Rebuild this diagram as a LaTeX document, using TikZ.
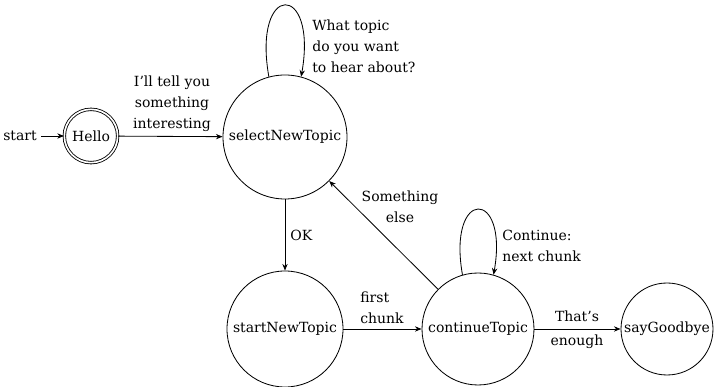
\documentclass[tikz,border=0pt]{standalone}
\usepackage{fontspec}
\setmainfont{DejaVu Serif}
\usetikzlibrary{arrows.meta}
\begin{document}
\begin{tikzpicture}[x=0.6pt,y=-0.6pt,
  every node/.style={font=\fontsize{8.4}{12.6}\selectfont},
  st/.style={circle,draw,line width=0.5pt,inner sep=0pt},
  lbl/.style={inner sep=0pt},
  arr/.style={-{Stealth[length=4pt,width=3.2pt]},line width=0.5pt}]
\useasboundingbox (0,0) rectangle (721,387);
\node[lbl,inner sep=2.5pt] (start) at (20,136) {start};
\node[st,double,double distance=1pt,minimum size=32pt] (hello) at (91,136) {Hello};
\node[st,minimum size=74.4pt] (sel) at (285,137) {selectNewTopic};
\node[st,minimum size=69.6pt] (snt) at (285,329) {startNewTopic};
\node[st,minimum size=67.2pt] (ct) at (478,329) {continueTopic};
\node[st,minimum size=55.2pt] (sg) at (667,329) {sayGoodbye};

\draw[arr] (start) -- (hello);
\draw[arr] (hello) -- (sel);
\draw[arr] (sel.105) .. controls +(100:58pt) and +(80:58pt) .. (sel.75);
\draw[arr] (sel) -- (snt);
\draw[arr] (snt) -- (ct);
\draw[arr] (ct) -- (sel);
\draw[arr] (ct.106) .. controls +(100:53pt) and +(80:53pt) .. (ct.74);
\draw[arr] (ct) -- (sg);

\node[lbl,align=center] (l1) at (172,104) {I'll tell you\\something\\interesting};
\node[lbl,align=left,anchor=west] (l2) at (312,46) {What topic\\do you want\\to hear about?};
\node[lbl,anchor=west] (l3) at (290,235) {OK};
\node[lbl,align=center] (l4) at (400,207) {Something\\else};
\node[lbl,align=left,anchor=west] (l5) at (360,308) {first\\chunk};
\node[lbl,align=left,anchor=west] (l6) at (502,246) {Continue:\\next chunk};
\node[lbl] (l7) at (577,316) {That's};
\node[lbl] (l8) at (577,342) {enough};
\end{tikzpicture}
\end{document}
